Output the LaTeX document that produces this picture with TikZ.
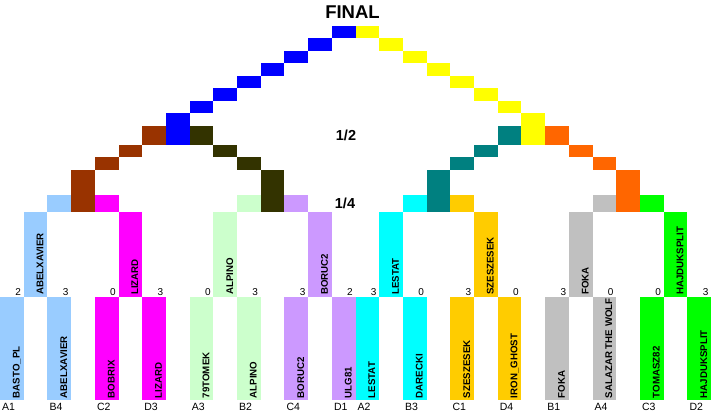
\documentclass[tikz,border=0pt]{standalone}
\usepackage{fontspec}
\setmainfont{Liberation Sans}
\definecolor{LB}{HTML}{99CCFF}
\definecolor{MG}{HTML}{FF00FF}
\definecolor{BR}{HTML}{993300}
\definecolor{BL}{HTML}{0000FF}
\definecolor{DK}{HTML}{333300}
\definecolor{LG}{HTML}{CCFFCC}
\definecolor{LV}{HTML}{CC99FF}
\definecolor{CY}{HTML}{00FFFF}
\definecolor{TL}{HTML}{008080}
\definecolor{GD}{HTML}{FFCC00}
\definecolor{YL}{HTML}{FFFF00}
\definecolor{OR}{HTML}{FF6600}
\definecolor{GR}{HTML}{C0C0C0}
\definecolor{GN}{HTML}{00FF00}
\def\cw{23.7}
\newcommand{\bx}[4]{\fill[#1] ({#2*\cw},#3) rectangle ({(#2+1)*\cw},#4);}
\begin{document}
\begin{tikzpicture}[x=1pt,y=-1pt,
  namelbl/.style={rotate=90,anchor=base west,inner sep=0pt,font=\bfseries\fontsize{9.7}{11}\selectfont},
  scorelbl/.style={anchor=base east,inner sep=0pt,font=\fontsize{10}{12}\selectfont},
  seedlbl/.style={anchor=base west,inner sep=0pt,font=\fontsize{10.5}{12}\selectfont},
  roundlbl/.style={anchor=base,inner sep=0pt,font=\bfseries\fontsize{14.5}{16}\selectfont}]
\useasboundingbox[fill=white] (0,0) rectangle (711,411);
% left half
\bx{LB}{0}{297}{400}
\bx{LB}{1}{212}{297}
\bx{LB}{2}{297}{400}
\bx{LB}{2}{195}{212}
\bx{MG}{4}{297}{400}
\bx{MG}{4}{195}{212}
\bx{MG}{5}{212}{297}
\bx{MG}{6}{297}{400}
\bx{BR}{3}{170}{212}
\bx{BR}{4}{157.5}{170}
\bx{BR}{5}{145}{157.5}
\bx{BR}{6}{126}{145}
\bx{BL}{7}{113.5}{145}
\bx{BL}{8}{101}{113.5}
\bx{BL}{9}{88.5}{101}
\bx{BL}{10}{76}{88.5}
\bx{BL}{11}{63.5}{76}
\bx{BL}{12}{51}{63.5}
\bx{BL}{13}{38.5}{51}
\bx{BL}{14}{26}{38.5}
\bx{DK}{8}{126}{145}
\bx{DK}{9}{145}{157.5}
\bx{DK}{10}{157.5}{170}
\bx{DK}{11}{170}{212}
\bx{LG}{8}{297}{400}
\bx{LG}{9}{212}{297}
\bx{LG}{10}{297}{400}
\bx{LG}{10}{195}{212}
\bx{LV}{12}{297}{400}
\bx{LV}{12}{195}{212}
\bx{LV}{13}{212}{297}
\bx{LV}{14}{297}{400}
% right half
\bx{CY}{15}{297}{400}
\bx{CY}{16}{212}{297}
\bx{CY}{17}{297}{400}
\bx{CY}{17}{195}{212}
\bx{TL}{18}{170}{212}
\bx{TL}{19}{157.5}{170}
\bx{TL}{20}{145}{157.5}
\bx{TL}{21}{126}{145}
\bx{GD}{19}{297}{400}
\bx{GD}{19}{195}{212}
\bx{GD}{20}{212}{297}
\bx{GD}{21}{297}{400}
\bx{YL}{22}{113.5}{145}
\bx{YL}{21}{101}{113.5}
\bx{YL}{20}{88.5}{101}
\bx{YL}{19}{76}{88.5}
\bx{YL}{18}{63.5}{76}
\bx{YL}{17}{51}{63.5}
\bx{YL}{16}{38.5}{51}
\bx{YL}{15}{26}{38.5}
\bx{OR}{23}{126}{145}
\bx{OR}{24}{145}{157.5}
\bx{OR}{25}{157.5}{170}
\bx{OR}{26}{170}{212}
\bx{GR}{23}{297}{400}
\bx{GR}{24}{212}{297}
\bx{GR}{25}{297}{400}
\bx{GR}{25}{195}{212}
\bx{GN}{27}{297}{400}
\bx{GN}{27}{195}{212}
\bx{GN}{28}{212}{297}
\bx{GN}{29}{297}{400}
% round labels
\node[roundlbl,font=\bfseries\fontsize{18.5}{20}\selectfont] (final) at (352.5,19) {FINAL};
\node[roundlbl] (half) at (346,141) {1/2};
\node[roundlbl] (quarter) at (345,209) {1/4};
% first-round players
\foreach \c/\nm/\sc/\sd [count=\i] in {0/BASTO\_PL/2/A1, 2/ABELXAVIER/3/B4, 4/BOBRIX/0/C2, 6/LIZARD/3/D3,
  8/79TOMEK/0/A3, 10/ALPINO/3/B2, 12/BORUC2/3/C4, 14/ULG81/2/D1,
  15/LESTAT/3/A2, 17/DARECKI/0/B3, 19/SZESZESEK/3/C1, 21/IRON\_GHOST/0/D4,
  23/FOKA/3/B1, 25/SALAZAR THE WOLF/0/A4, 27/TOMASZ82/0/C3, 29/HAJDUKSPLIT/3/D2}{
  \node[namelbl] (p\i) at ({(\c+1)*\cw-4},398.3) {\nm};
  \node[scorelbl] (s\i) at ({(\c+1)*\cw-2.5},295) {\sc};
  \node[seedlbl] (d\i) at ({\c*\cw+2},410) {\sd};
}
% quarter-final players
\foreach \c/\nm [count=\i] in {1/ABELXAVIER, 5/LIZARD, 9/ALPINO, 13/BORUC2,
  16/LESTAT, 20/SZESZESEK, 24/FOKA, 28/HAJDUKSPLIT}{
  \node[namelbl] (q\i) at ({(\c+1)*\cw-4},295) {\nm};
}
\end{tikzpicture}
\end{document}
